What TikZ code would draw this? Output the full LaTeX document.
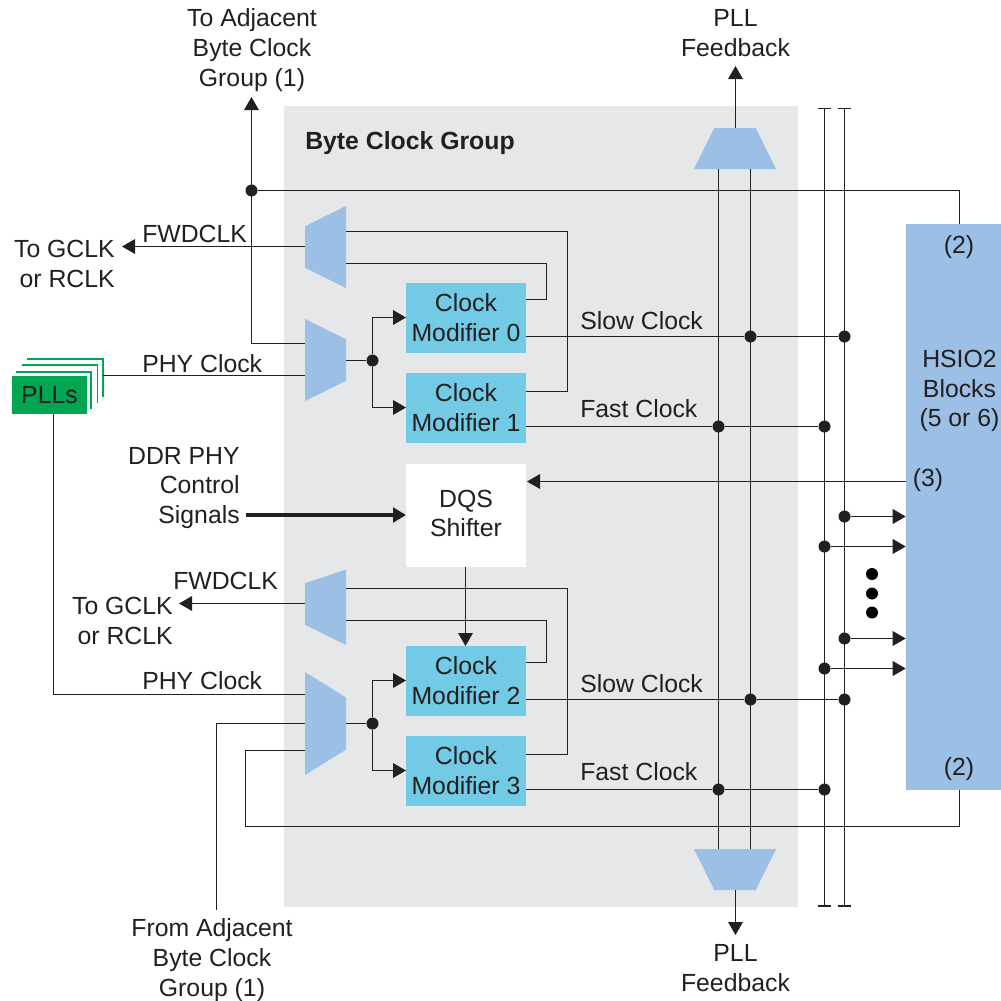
\documentclass[tikz,border=0pt]{standalone}
\usepackage{fontspec}
\setmainfont{Liberation Sans}
\usepackage{tikz}
\usetikzlibrary{arrows.meta,shapes.geometric}
\definecolor{groupcol}{HTML}{E6E7E9}
\definecolor{muxcol}{HTML}{9BBFE5}
\definecolor{modcol}{HTML}{72CAE5}
\definecolor{pllcol}{HTML}{00A651}
\definecolor{inkcol}{HTML}{231F20}
\tikzset{
  lbl/.style={font=\fontsize{18.6}{22.4}\selectfont, text=inkcol, inner sep=0pt, align=center},
  wire/.style={draw=inkcol, line width=0.8pt},
  arr/.style={wire, -{Triangle[length=9.75pt,width=11pt]}},
  thickarr/.style={draw=inkcol, line width=2.4pt, -{Triangle[length=9.75pt,width=11pt]}},
  railwire/.style={wire, {Bar[width=10pt,length=0.8pt]}-{Bar[width=10pt,length=0.8pt]}},
  dot/.style={circle, fill=inkcol, inner sep=0pt, minimum size=9pt},
  bigdot/.style={circle, fill=black, inner sep=0pt, minimum size=9pt},
  modbox/.style={lbl, fill=modcol, minimum width=90pt, minimum height=52.5pt},
  mux/.style={trapezium, fill=muxcol, inner sep=1pt, trapezium stretches=true,
    trapezium left angle=64, trapezium right angle=64, minimum height=30.75pt, minimum width=61.5pt},
}
\begin{document}
\begin{tikzpicture}[x=0.75pt, y=-0.75pt]
  \useasboundingbox (0,0) rectangle (1001,1001);
  \node[fill=groupcol, minimum width=385.5pt, minimum height=600.75pt, inner sep=0pt] (group) at (541,506.5) {};
  \node[fill=muxcol, minimum width=71.25pt, minimum height=424.5pt, inner sep=0pt] (hsio) at (953.5,507) {};

  \node[mux, rotate=90] (fwdA) at (325.5,247) {};
  \node[mux, rotate=-90] (phyA) at (325.5,360) {};
  \node[mux, rotate=90, minimum width=56.6pt, trapezium right angle=71.8] (fwdB) at (325.5,604) {};
  \node[mux, rotate=-90, minimum width=77.25pt] (phyB) at (325.5,723.5) {};
  \node[mux] (fbT) at (735,148.5) {};
  \node[mux, rotate=180] (fbB) at (735,869.5) {};

  \node[modbox] (mod0) at (466,318) {Clock\\Modifier 0};
  \node[modbox] (mod1) at (466,408) {Clock\\Modifier 1};
  \node[modbox] (mod2) at (466,681) {Clock\\Modifier 2};
  \node[modbox] (mod3) at (466,771) {Clock\\Modifier 3};
  \node[lbl, fill=white, minimum width=90pt, minimum height=77.25pt] (dqs) at (466,515.5) {};
  \node[lbl] (dqsTxt) at (466,513.5) {DQS\\Shifter};

  \foreach \xa/\xb/\ya/\yb in {27/103/359/397, 22/97.5/365/403, 16/91/372/409}
    \draw[pllcol, line width=1.1pt] (\xa,\ya) -- (\xb,\ya) -- (\xb,\yb);
  \node[lbl, fill=pllcol, minimum width=56.25pt, minimum height=28.5pt] (pll) at (49.5,395) {PLLs};

  \node[lbl] (toAdj) at (252,50) {To Adjacent\\Byte Clock\\Group (1)};
  \node[lbl] (fromAdj) at (212,960) {From Adjacent\\Byte Clock\\Group (1)};
  \node[lbl] (fbTxtT) at (735.5,33) {PLL\\Feedback};
  \node[lbl] (fbTxtB) at (735.5,968) {PLL\\Feedback};
  \node[lbl, font=\fontsize{18.6}{22.4}\selectfont\bfseries, anchor=west] (grpTxt) at (305,143) {Byte Clock Group};
  \node[lbl, align=right, anchor=east] (gclkA) at (115,264) {To GCLK\\or RCLK};
  \node[lbl, align=right, anchor=east] (gclkB) at (173,621) {To GCLK\\or RCLK};
  \node[lbl, anchor=west] (fwdTxtA) at (142,234) {FWDCLK};
  \node[lbl, anchor=west] (fwdTxtB) at (173,581) {FWDCLK};
  \node[lbl, anchor=west] (phyTxtA) at (142,364) {PHY Clock};
  \node[lbl, anchor=west] (phyTxtB) at (142,681) {PHY Clock};
  \node[lbl, anchor=west] (slowA) at (580,321) {Slow Clock};
  \node[lbl, anchor=west] (fastA) at (580,409) {Fast Clock};
  \node[lbl, anchor=west] (slowB) at (580,684) {Slow Clock};
  \node[lbl, anchor=west] (fastB) at (580,772) {Fast Clock};
  \node[lbl, align=right, anchor=east] (ctrl) at (240,488) {DDR PHY\\Control\\Signals};
  \node[lbl] (blocks) at (959.5,391) {HSIO2\\Blocks\\(5 or 6)};
  \node[lbl] (two) at (959,247) {(2)};
  \node[lbl] (twoB) at (959,769) {(2)};
  \node[lbl] (three) at (928,480) {(3)};

  \coordinate (railAt) at (824.5,107.5);
  \coordinate (railAb) at (824.5,906.5);
  \coordinate (railBt) at (844.5,107.5);
  \coordinate (railBb) at (844.5,906.5);
  \draw[railwire] (railAt) -- (railAb);
  \draw[railwire] (railBt) -- (railBb);

  \draw[wire] (718.5,169) -- (718.5,849);
  \draw[wire] (750.5,169) -- (750.5,849);
  \draw[arr] (735.5,128) -- (735.5,66);
  \draw[arr] (735.5,890) -- (735.5,935);

  \node[dot] (dTop) at (251.5,190.5) {};
  \coordinate (hsT) at (959.5,224);
  \coordinate (hsB) at (959.5,790);
  \coordinate (pllOut) at (103,375.5);
  \coordinate (pllDown) at (53.5,414);
  \coordinate (fwdAin) at (305,246.5);
  \coordinate (fwdBin) at (305,603.5);
  \draw[wire] (dTop) -- (959.5,190.5) -- (hsT);
  \draw[arr] (305,343.5) -- (251.5,343.5) -- (251.5,97);
  \draw[arr] (fwdAin) -- (122,246.5);
  \draw[wire] (pllOut) -- (305,375.5);
  \draw[wire] (pllDown) -- (53.5,694.5) -- (305,694.5);
  \draw[arr] (fwdBin) -- (179,603.5);
  \draw[wire] (216.5,910) -- (216.5,723.5) -- (305,723.5);
  \draw[wire] (hsB) -- (959.5,826.5) -- (245.5,826.5) -- (245.5,750.5) -- (305,750.5);

  \draw[wire] (346,231.5) -- (567.5,231.5) -- (567.5,391.5) -- (526,391.5);
  \draw[wire] (346,263.5) -- (546.5,263.5) -- (546.5,299.5) -- (526,299.5);
  \draw[wire] (346,588.5) -- (567.5,588.5) -- (567.5,754.5) -- (526,754.5);
  \draw[wire] (346,620.5) -- (546.5,620.5) -- (546.5,662.5) -- (526,662.5);

  \node[dot] (dA) at (372.5,360.5) {};
  \node[dot] (dB) at (372.5,723.5) {};
  \coordinate (in0) at (406,317.5);
  \coordinate (in1) at (406,407.5);
  \coordinate (in2) at (406,680.5);
  \coordinate (in3) at (406,770.5);
  \draw[wire] (346,360.5) -- (dA);
  \draw[wire] (346,723.5) -- (dB);
  \draw[arr] (dA) |- (in0);
  \draw[arr] (dA) |- (in1);
  \draw[arr] (dB) |- (in2);
  \draw[arr] (dB) |- (in3);

  \node[dot] (s0a) at (750.5,336.5) {};
  \node[dot] (s0b) at (844.5,336.5) {};
  \node[dot] (f1a) at (718.5,426.5) {};
  \node[dot] (f1b) at (824.5,426.5) {};
  \node[dot] (s2a) at (750.5,699.5) {};
  \node[dot] (s2b) at (844.5,699.5) {};
  \node[dot] (f3a) at (718.5,789.5) {};
  \node[dot] (f3b) at (824.5,789.5) {};
  \draw[wire] (526,336.5) -- (s0a) -- (s0b);
  \draw[wire] (526,426.5) -- (f1a) -- (f1b);
  \draw[wire] (526,699.5) -- (s2a) -- (s2b);
  \draw[wire] (526,789.5) -- (f3a) -- (f3b);

  \coordinate (dqsOut) at (465.5,567);
  \coordinate (dqsIn) at (465.5,646);
  \draw[arr] (dqsOut) -- (dqsIn);
  \draw[arr] (906,481.5) -- (527,481.5);
  \draw[thickarr] (246,515) -- (406,515);

  \node[dot] (o1) at (844.5,516.5) {};
  \node[dot] (o2) at (824.5,546.5) {};
  \node[dot] (o3) at (844.5,638.5) {};
  \node[dot] (o4) at (824.5,668.5) {};
  \foreach \n in {o1,o2,o3,o4}
    \draw[arr] (\n) -- (\n -| hsio.west);
  \foreach \y in {574,593.5,612.5}
    \node[bigdot] at (872,\y) {};
\end{tikzpicture}
\end{document}
